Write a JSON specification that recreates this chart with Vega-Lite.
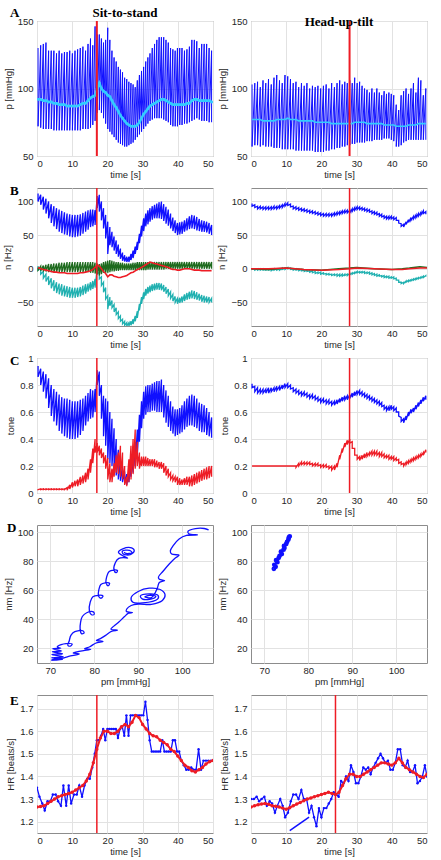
{
"$schema":"https://vega.github.io/schema/vega-lite/v6.json",
"background":"white",
"padding":{"left":2,"top":6,"right":5,"bottom":5},
"datasets":{
"L":[
{"t":0.3,"ph":130,"pl":72,"pm":92,"bh":112,"bl":100,"ch":4,"cl":-2,"gh":2,"gl":-2,"r":2,"uh":0.94,"ul":0.86,"vh":0.03,"vl":0.025},
{"t":1.05,"ph":132,"pl":71,"pm":92,"bh":110,"bl":95,"ch":0,"cl":-8,"gh":4,"gl":-3,"r":0,"uh":0.92,"ul":0.8,"vh":0.03,"vl":0.025},
{"t":1.8,"ph":133,"pl":70,"pm":91,"bh":107,"bl":88,"ch":-4,"cl":-14,"gh":5,"gl":-4,"r":-1,"uh":0.9,"ul":0.75,"vh":0.03,"vl":0.025},
{"t":2.55,"ph":134,"pl":70,"pm":91,"bh":104,"bl":82,"ch":-8,"cl":-19,"gh":6,"gl":-4,"r":-2,"uh":0.88,"ul":0.7,"vh":0.03,"vl":0.025},
{"t":3.3,"ph":128,"pl":70,"pm":90,"bh":100,"bl":75,"ch":-11,"cl":-24,"gh":7,"gl":-5,"r":-3,"uh":0.85,"ul":0.63,"vh":0.03,"vl":0.025},
{"t":4.05,"ph":128,"pl":70,"pm":90,"bh":96,"bl":68,"ch":-14,"cl":-29,"gh":7,"gl":-5,"r":-4,"uh":0.8,"ul":0.57,"vh":0.03,"vl":0.025},
{"t":4.8,"ph":128,"pl":69,"pm":89,"bh":93,"bl":63,"ch":-17,"cl":-33,"gh":8,"gl":-5,"r":-5,"uh":0.77,"ul":0.53,"vh":0.03,"vl":0.025},
{"t":5.55,"ph":126,"pl":69,"pm":89,"bh":90,"bl":59,"ch":-20,"cl":-36,"gh":8,"gl":-5,"r":-5,"uh":0.75,"ul":0.5,"vh":0.03,"vl":0.025},
{"t":6.3,"ph":128,"pl":69,"pm":88,"bh":88,"bl":55,"ch":-22,"cl":-38,"gh":9,"gl":-5,"r":-6,"uh":0.73,"ul":0.46,"vh":0.03,"vl":0.025},
{"t":7.05,"ph":126,"pl":69,"pm":88,"bh":86,"bl":53,"ch":-23,"cl":-40,"gh":9,"gl":-5,"r":-6,"uh":0.71,"ul":0.44,"vh":0.03,"vl":0.025},
{"t":7.8,"ph":127,"pl":69,"pm":88,"bh":84,"bl":51,"ch":-25,"cl":-41,"gh":9,"gl":-5,"r":-6,"uh":0.7,"ul":0.42,"vh":0.03,"vl":0.025},
{"t":8.55,"ph":127,"pl":69,"pm":87,"bh":82,"bl":50,"ch":-26,"cl":-42,"gh":10,"gl":-5,"r":-7,"uh":0.7,"ul":0.41,"vh":0.04,"vl":0.02},
{"t":9.3,"ph":128,"pl":69,"pm":87,"bh":81,"bl":48,"ch":-27,"cl":-43,"gh":10,"gl":-5,"r":-7,"uh":0.69,"ul":0.4,"vh":0.06,"vl":0.03},
{"t":10.05,"ph":126,"pl":69,"pm":87,"bh":80,"bl":47,"ch":-28,"cl":-43,"gh":10,"gl":-5,"r":-7,"uh":0.68,"ul":0.4,"vh":0.08,"vl":0.04},
{"t":10.8,"ph":128,"pl":69,"pm":87,"bh":80,"bl":47,"ch":-28,"cl":-43,"gh":10,"gl":-5,"r":-7,"uh":0.68,"ul":0.4,"vh":0.09,"vl":0.05},
{"t":11.55,"ph":129,"pl":69,"pm":87,"bh":80,"bl":48,"ch":-28,"cl":-42,"gh":10,"gl":-5,"r":-7,"uh":0.68,"ul":0.41,"vh":0.1,"vl":0.05},
{"t":12.3,"ph":130,"pl":69,"pm":88,"bh":81,"bl":49,"ch":-27,"cl":-41,"gh":10,"gl":-5,"r":-6,"uh":0.69,"ul":0.43,"vh":0.12,"vl":0.06},
{"t":13.05,"ph":131,"pl":70,"pm":89,"bh":83,"bl":52,"ch":-25,"cl":-39,"gh":10,"gl":-5,"r":-6,"uh":0.7,"ul":0.46,"vh":0.13,"vl":0.07},
{"t":13.8,"ph":128,"pl":70,"pm":89,"bh":85,"bl":55,"ch":-23,"cl":-37,"gh":10,"gl":-5,"r":-5,"uh":0.72,"ul":0.5,"vh":0.15,"vl":0.08},
{"t":14.5,"ph":133,"pl":70,"pm":91,"bh":87,"bl":58,"ch":-22,"cl":-34,"gh":10,"gl":-5,"r":-4,"uh":0.74,"ul":0.53,"vh":0.18,"vl":0.1},
{"t":15.2,"ph":137,"pl":71,"pm":93,"bh":88,"bl":62,"ch":-20,"cl":-32,"gh":10,"gl":-6,"r":-3,"uh":0.77,"ul":0.55,"vh":0.25,"vl":0.15},
{"t":15.85,"ph":132,"pl":73,"pm":94,"bh":88,"bl":63,"ch":-18,"cl":-30,"gh":10,"gl":-6,"r":-1,"uh":0.76,"ul":0.56,"vh":0.33,"vl":0.22},
{"t":16.5,"ph":146,"pl":76,"pm":95,"bh":87,"bl":65,"ch":-15,"cl":-28,"gh":9,"gl":-7,"r":2,"uh":0.77,"ul":0.6,"vh":0.4,"vl":0.3},
{"t":17.1,"ph":140,"pl":82,"pm":100,"bh":108,"bl":90,"ch":2,"cl":-8,"gh":8,"gl":-8,"r":6,"uh":0.91,"ul":0.8,"vh":0.37,"vl":0.3},
{"t":17.7,"ph":140,"pl":84,"pm":104,"bh":110,"bl":85,"ch":-5,"cl":-15,"gh":7,"gl":-10,"r":4,"uh":0.9,"ul":0.72,"vh":0.35,"vl":0.28},
{"t":18.3,"ph":137,"pl":82,"pm":100,"bh":100,"bl":72,"ch":-12,"cl":-25,"gh":8,"gl":-8,"r":0,"uh":0.8,"ul":0.55,"vh":0.33,"vl":0.26},
{"t":18.9,"ph":134,"pl":78,"pm":98,"bh":90,"bl":60,"ch":-20,"cl":-35,"gh":10,"gl":-6,"r":-4,"uh":0.72,"ul":0.42,"vh":0.3,"vl":0.22},
{"t":19.5,"ph":136,"pl":74,"pm":97,"bh":80,"bl":45,"ch":-28,"cl":-45,"gh":11,"gl":-6,"r":-7,"uh":0.7,"ul":0.35,"vh":0.28,"vl":0.18},
{"t":20.1,"ph":145,"pl":70,"pm":95,"bh":70,"bl":22,"ch":-40,"cl":-60,"gh":12,"gl":-6,"r":-12,"uh":0.68,"ul":0.25,"vh":0.26,"vl":0.1},
{"t":20.7,"ph":136,"pl":68,"pm":94,"bh":62,"bl":35,"ch":-42,"cl":-55,"gh":13,"gl":-5,"r":-9,"uh":0.6,"ul":0.22,"vh":0.22,"vl":0.08},
{"t":21.3,"ph":128,"pl":66,"pm":91,"bh":55,"bl":32,"ch":-47,"cl":-58,"gh":12,"gl":-4,"r":-9,"uh":0.55,"ul":0.2,"vh":0.18,"vl":0.08},
{"t":21.9,"ph":123,"pl":64,"pm":88,"bh":48,"bl":27,"ch":-53,"cl":-64,"gh":11,"gl":-4,"r":-11,"uh":0.48,"ul":0.16,"vh":0.22,"vl":0.12},
{"t":22.5,"ph":120,"pl":62,"pm":86,"bh":42,"bl":22,"ch":-58,"cl":-68,"gh":10,"gl":-3,"r":-12,"uh":0.4,"ul":0.13,"vh":0.28,"vl":0.15},
{"t":23.1,"ph":116,"pl":60,"pm":83,"bh":36,"bl":18,"ch":-64,"cl":-74,"gh":10,"gl":-3,"r":-13,"uh":0.32,"ul":0.1,"vh":0.3,"vl":0.14},
{"t":23.7,"ph":114,"pl":59,"pm":80,"bh":30,"bl":15,"ch":-70,"cl":-78,"gh":9,"gl":-2,"r":-13,"uh":0.25,"ul":0.09,"vh":0.35,"vl":0.12},
{"t":24.3,"ph":112,"pl":58,"pm":78,"bh":24,"bl":12,"ch":-75,"cl":-82,"gh":9,"gl":-2,"r":-12,"uh":0.2,"ul":0.08,"vh":0.3,"vl":0.1},
{"t":24.9,"ph":108,"pl":57,"pm":76,"bh":20,"bl":11,"ch":-78,"cl":-84,"gh":8,"gl":-2,"r":-11,"uh":0.16,"ul":0.07,"vh":0.2,"vl":0.06},
{"t":25.5,"ph":107,"pl":57,"pm":74,"bh":18,"bl":10,"ch":-80,"cl":-85,"gh":8,"gl":-2,"r":-10,"uh":0.14,"ul":0.06,"vh":0.12,"vl":0.05},
{"t":26.1,"ph":105,"pl":58,"pm":73,"bh":18,"bl":10,"ch":-80,"cl":-85,"gh":8,"gl":-2,"r":-8,"uh":0.16,"ul":0.08,"vh":0.25,"vl":0.08},
{"t":26.7,"ph":104,"pl":59,"pm":72,"bh":22,"bl":13,"ch":-78,"cl":-84,"gh":8,"gl":-2,"r":-6,"uh":0.22,"ul":0.12,"vh":0.35,"vl":0.1},
{"t":27.3,"ph":103,"pl":60,"pm":72,"bh":27,"bl":16,"ch":-75,"cl":-82,"gh":9,"gl":-2,"r":-5,"uh":0.28,"ul":0.15,"vh":0.4,"vl":0.14},
{"t":27.9,"ph":101,"pl":62,"pm":72,"bh":33,"bl":22,"ch":-70,"cl":-78,"gh":9,"gl":-2,"r":-3,"uh":0.38,"ul":0.2,"vh":0.47,"vl":0.18},
{"t":28.5,"ph":106,"pl":64,"pm":73,"bh":40,"bl":28,"ch":-63,"cl":-73,"gh":10,"gl":-2,"r":-1,"uh":0.47,"ul":0.28,"vh":0.38,"vl":0.2},
{"t":29.1,"ph":110,"pl":66,"pm":75,"bh":52,"bl":38,"ch":-52,"cl":-62,"gh":10,"gl":-2,"r":0,"uh":0.58,"ul":0.38,"vh":0.3,"vl":0.18},
{"t":29.7,"ph":113,"pl":68,"pm":78,"bh":64,"bl":48,"ch":-42,"cl":-52,"gh":10,"gl":-2,"r":2,"uh":0.68,"ul":0.48,"vh":0.27,"vl":0.2},
{"t":30.3,"ph":116,"pl":70,"pm":81,"bh":75,"bl":56,"ch":-35,"cl":-45,"gh":10,"gl":-2,"r":4,"uh":0.75,"ul":0.55,"vh":0.27,"vl":0.2},
{"t":30.9,"ph":120,"pl":72,"pm":83,"bh":82,"bl":63,"ch":-30,"cl":-40,"gh":10,"gl":-2,"r":6,"uh":0.79,"ul":0.58,"vh":0.27,"vl":0.2},
{"t":31.5,"ph":123,"pl":74,"pm":85,"bh":87,"bl":66,"ch":-27,"cl":-37,"gh":10,"gl":-1,"r":8,"uh":0.8,"ul":0.6,"vh":0.26,"vl":0.2},
{"t":32.1,"ph":126,"pl":76,"pm":87,"bh":90,"bl":70,"ch":-25,"cl":-35,"gh":10,"gl":-1,"r":10,"uh":0.8,"ul":0.6,"vh":0.25,"vl":0.2},
{"t":32.75,"ph":130,"pl":77,"pm":88,"bh":93,"bl":73,"ch":-23,"cl":-33,"gh":10,"gl":-1,"r":9,"uh":0.81,"ul":0.61,"vh":0.25,"vl":0.2},
{"t":33.4,"ph":133,"pl":78,"pm":89,"bh":95,"bl":75,"ch":-22,"cl":-32,"gh":10,"gl":-1,"r":8,"uh":0.82,"ul":0.61,"vh":0.25,"vl":0.19},
{"t":34.05,"ph":136,"pl":78,"pm":90,"bh":97,"bl":75,"ch":-21,"cl":-31,"gh":10,"gl":-1,"r":7,"uh":0.83,"ul":0.6,"vh":0.24,"vl":0.19},
{"t":34.7,"ph":138,"pl":78,"pm":91,"bh":99,"bl":75,"ch":-21,"cl":-31,"gh":10,"gl":-1,"r":6,"uh":0.83,"ul":0.6,"vh":0.23,"vl":0.18},
{"t":35.35,"ph":138,"pl":78,"pm":92,"bh":100,"bl":74,"ch":-22,"cl":-32,"gh":10,"gl":-1,"r":5,"uh":0.84,"ul":0.6,"vh":0.23,"vl":0.18},
{"t":36.0,"ph":138,"pl":77,"pm":92,"bh":96,"bl":71,"ch":-24,"cl":-34,"gh":10,"gl":-1,"r":4,"uh":0.8,"ul":0.56,"vh":0.22,"vl":0.15},
{"t":36.65,"ph":136,"pl":76,"pm":91,"bh":92,"bl":67,"ch":-27,"cl":-37,"gh":10,"gl":0,"r":3,"uh":0.76,"ul":0.52,"vh":0.2,"vl":0.13},
{"t":37.3,"ph":134,"pl":75,"pm":90,"bh":88,"bl":64,"ch":-30,"cl":-40,"gh":10,"gl":0,"r":2,"uh":0.72,"ul":0.49,"vh":0.18,"vl":0.12},
{"t":37.95,"ph":130,"pl":73,"pm":89,"bh":82,"bl":60,"ch":-34,"cl":-44,"gh":10,"gl":0,"r":0,"uh":0.68,"ul":0.46,"vh":0.15,"vl":0.1},
{"t":38.6,"ph":129,"pl":72,"pm":88,"bh":76,"bl":56,"ch":-38,"cl":-48,"gh":10,"gl":0,"r":-1,"uh":0.64,"ul":0.44,"vh":0.13,"vl":0.09},
{"t":39.25,"ph":128,"pl":72,"pm":88,"bh":72,"bl":53,"ch":-41,"cl":-50,"gh":10,"gl":0,"r":-1,"uh":0.62,"ul":0.42,"vh":0.12,"vl":0.08},
{"t":39.9,"ph":130,"pl":72,"pm":88,"bh":68,"bl":50,"ch":-44,"cl":-52,"gh":10,"gl":0,"r":-2,"uh":0.62,"ul":0.43,"vh":0.12,"vl":0.06},
{"t":40.55,"ph":130,"pl":73,"pm":88,"bh":69,"bl":51,"ch":-43,"cl":-51,"gh":10,"gl":0,"r":-2,"uh":0.63,"ul":0.44,"vh":0.11,"vl":0.06},
{"t":41.2,"ph":130,"pl":73,"pm":88,"bh":70,"bl":52,"ch":-41,"cl":-50,"gh":10,"gl":0,"r":-1,"uh":0.65,"ul":0.45,"vh":0.1,"vl":0.06},
{"t":41.9,"ph":128,"pl":74,"pm":88,"bh":72,"bl":55,"ch":-38,"cl":-48,"gh":10,"gl":0,"r":0,"uh":0.68,"ul":0.47,"vh":0.11,"vl":0.06},
{"t":42.6,"ph":129,"pl":74,"pm":89,"bh":75,"bl":57,"ch":-36,"cl":-46,"gh":10,"gl":0,"r":0,"uh":0.7,"ul":0.49,"vh":0.12,"vl":0.06},
{"t":43.3,"ph":131,"pl":75,"pm":89,"bh":78,"bl":59,"ch":-34,"cl":-45,"gh":10,"gl":0,"r":0,"uh":0.72,"ul":0.5,"vh":0.12,"vl":0.05},
{"t":44.0,"ph":136,"pl":76,"pm":91,"bh":80,"bl":60,"ch":-32,"cl":-44,"gh":10,"gl":0,"r":-1,"uh":0.73,"ul":0.5,"vh":0.13,"vl":0.05},
{"t":44.7,"ph":136,"pl":77,"pm":92,"bh":79,"bl":59,"ch":-33,"cl":-45,"gh":10,"gl":0,"r":-2,"uh":0.72,"ul":0.49,"vh":0.14,"vl":0.06},
{"t":45.4,"ph":135,"pl":78,"pm":92,"bh":77,"bl":57,"ch":-35,"cl":-46,"gh":10,"gl":0,"r":-2,"uh":0.7,"ul":0.48,"vh":0.15,"vl":0.07},
{"t":46.1,"ph":130,"pl":77,"pm":91,"bh":74,"bl":56,"ch":-37,"cl":-47,"gh":10,"gl":0,"r":-2,"uh":0.67,"ul":0.46,"vh":0.16,"vl":0.08},
{"t":46.8,"ph":133,"pl":76,"pm":91,"bh":72,"bl":55,"ch":-39,"cl":-49,"gh":10,"gl":0,"r":-3,"uh":0.66,"ul":0.45,"vh":0.17,"vl":0.09},
{"t":47.5,"ph":133,"pl":76,"pm":91,"bh":71,"bl":55,"ch":-40,"cl":-50,"gh":10,"gl":0,"r":-3,"uh":0.65,"ul":0.45,"vh":0.18,"vl":0.1},
{"t":48.2,"ph":133,"pl":76,"pm":91,"bh":70,"bl":54,"ch":-41,"cl":-50,"gh":10,"gl":0,"r":-3,"uh":0.63,"ul":0.43,"vh":0.19,"vl":0.1},
{"t":48.9,"ph":130,"pl":75,"pm":91,"bh":68,"bl":52,"ch":-42,"cl":-50,"gh":10,"gl":0,"r":-3,"uh":0.6,"ul":0.42,"vh":0.2,"vl":0.11},
{"t":49.6,"ph":128,"pl":75,"pm":90,"bh":65,"bl":50,"ch":-44,"cl":-50,"gh":10,"gl":0,"r":-3,"uh":0.56,"ul":0.41,"vh":0.2,"vl":0.12}
],
"R":[
{"t":0.3,"ph":103,"pl":57,"pm":77,"bh":97,"bl":93,"ch":1,"cl":-1,"uh":0.81,"ul":0.78,"vh":0.2,"vl":0.2},
{"t":1.08,"ph":104,"pl":58,"pm":77,"bh":95,"bl":91,"ch":0,"cl":-2,"uh":0.79,"ul":0.75,"vh":0.2,"vl":0.2},
{"t":1.86,"ph":105,"pl":58,"pm":77,"bh":93,"bl":89,"ch":0,"cl":-2,"uh":0.78,"ul":0.74,"vh":0.2,"vl":0.2},
{"t":2.64,"ph":101,"pl":57,"pm":77,"bh":93,"bl":89,"ch":0,"cl":-2,"uh":0.77,"ul":0.74,"vh":0.2,"vl":0.2},
{"t":3.42,"ph":106,"pl":58,"pm":76,"bh":92,"bl":88,"ch":0,"cl":-2,"uh":0.77,"ul":0.74,"vh":0.2,"vl":0.2},
{"t":4.2,"ph":104,"pl":57,"pm":76,"bh":92,"bl":88,"ch":-1,"cl":-2,"uh":0.77,"ul":0.74,"vh":0.2,"vl":0.2},
{"t":4.98,"ph":107,"pl":57,"pm":76,"bh":92,"bl":88,"ch":-1,"cl":-2,"uh":0.78,"ul":0.74,"vh":0.2,"vl":0.2},
{"t":5.76,"ph":103,"pl":57,"pm":76,"bh":92,"bl":88,"ch":-1,"cl":-3,"uh":0.78,"ul":0.75,"vh":0.2,"vl":0.2},
{"t":6.54,"ph":108,"pl":56,"pm":76,"bh":93,"bl":89,"ch":0,"cl":-2,"uh":0.78,"ul":0.75,"vh":0.2,"vl":0.2},
{"t":7.32,"ph":110,"pl":56,"pm":77,"bh":93,"bl":89,"ch":0,"cl":-2,"uh":0.79,"ul":0.76,"vh":0.2,"vl":0.2},
{"t":8.1,"ph":106,"pl":56,"pm":77,"bh":94,"bl":90,"ch":0,"cl":-2,"uh":0.79,"ul":0.76,"vh":0.2,"vl":0.2},
{"t":8.88,"ph":104,"pl":55,"pm":77,"bh":95,"bl":91,"ch":1,"cl":-1,"uh":0.8,"ul":0.77,"vh":0.2,"vl":0.2},
{"t":9.66,"ph":110,"pl":55,"pm":77,"bh":97,"bl":93,"ch":1,"cl":-1,"uh":0.81,"ul":0.78,"vh":0.2,"vl":0.2},
{"t":10.44,"ph":109,"pl":55,"pm":78,"bh":98,"bl":94,"ch":2,"cl":0,"uh":0.81,"ul":0.78,"vh":0.2,"vl":0.2},
{"t":11.22,"ph":107,"pl":55,"pm":77,"bh":96,"bl":92,"ch":1,"cl":-1,"uh":0.8,"ul":0.77,"vh":0.2,"vl":0.2},
{"t":12.0,"ph":104,"pl":55,"pm":77,"bh":93,"bl":89,"ch":0,"cl":-2,"uh":0.78,"ul":0.75,"vh":0.2,"vl":0.2},
{"t":12.78,"ph":105,"pl":54,"pm":77,"bh":92,"bl":88,"ch":0,"cl":-2,"uh":0.77,"ul":0.74,"vh":0.2,"vl":0.19},
{"t":13.56,"ph":101,"pl":54,"pm":76,"bh":91,"bl":87,"ch":-1,"cl":-3,"uh":0.76,"ul":0.73,"vh":0.22,"vl":0.2},
{"t":14.34,"ph":104,"pl":54,"pm":76,"bh":90,"bl":86,"ch":-1,"cl":-3,"uh":0.75,"ul":0.72,"vh":0.23,"vl":0.21},
{"t":15.12,"ph":102,"pl":54,"pm":76,"bh":89,"bl":85,"ch":-2,"cl":-4,"uh":0.75,"ul":0.72,"vh":0.23,"vl":0.21},
{"t":15.9,"ph":104,"pl":54,"pm":76,"bh":88,"bl":84,"ch":-2,"cl":-4,"uh":0.74,"ul":0.71,"vh":0.23,"vl":0.21},
{"t":16.68,"ph":100,"pl":54,"pm":76,"bh":87,"bl":83,"ch":-3,"cl":-5,"uh":0.73,"ul":0.7,"vh":0.23,"vl":0.21},
{"t":17.46,"ph":102,"pl":54,"pm":76,"bh":86,"bl":82,"ch":-3,"cl":-6,"uh":0.73,"ul":0.7,"vh":0.22,"vl":0.2},
{"t":18.24,"ph":101,"pl":53,"pm":75,"bh":85,"bl":81,"ch":-4,"cl":-7,"uh":0.72,"ul":0.69,"vh":0.22,"vl":0.2},
{"t":19.02,"ph":102,"pl":53,"pm":75,"bh":84,"bl":80,"ch":-5,"cl":-7,"uh":0.71,"ul":0.68,"vh":0.22,"vl":0.2},
{"t":19.8,"ph":100,"pl":53,"pm":75,"bh":83,"bl":79,"ch":-5,"cl":-8,"uh":0.7,"ul":0.67,"vh":0.21,"vl":0.19},
{"t":20.58,"ph":102,"pl":53,"pm":75,"bh":82,"bl":78,"ch":-6,"cl":-8,"uh":0.7,"ul":0.67,"vh":0.21,"vl":0.19},
{"t":21.36,"ph":103,"pl":54,"pm":75,"bh":82,"bl":78,"ch":-7,"cl":-9,"uh":0.69,"ul":0.66,"vh":0.21,"vl":0.19},
{"t":22.14,"ph":100,"pl":54,"pm":75,"bh":82,"bl":78,"ch":-7,"cl":-9,"uh":0.69,"ul":0.66,"vh":0.2,"vl":0.18},
{"t":22.92,"ph":104,"pl":55,"pm":74,"bh":82,"bl":78,"ch":-8,"cl":-10,"uh":0.68,"ul":0.65,"vh":0.2,"vl":0.17},
{"t":23.7,"ph":101,"pl":55,"pm":74,"bh":83,"bl":79,"ch":-8,"cl":-10,"uh":0.68,"ul":0.65,"vh":0.2,"vl":0.17},
{"t":24.45,"ph":104,"pl":56,"pm":74,"bh":84,"bl":80,"ch":-8,"cl":-11,"uh":0.69,"ul":0.66,"vh":0.22,"vl":0.19},
{"t":25.2,"ph":106,"pl":56,"pm":74,"bh":85,"bl":81,"ch":-8,"cl":-11,"uh":0.7,"ul":0.67,"vh":0.28,"vl":0.25},
{"t":25.93,"ph":103,"pl":57,"pm":74,"bh":86,"bl":82,"ch":-8,"cl":-11,"uh":0.71,"ul":0.68,"vh":0.33,"vl":0.3},
{"t":26.65,"ph":105,"pl":57,"pm":74,"bh":87,"bl":83,"ch":-8,"cl":-10,"uh":0.72,"ul":0.69,"vh":0.37,"vl":0.34},
{"t":27.36,"ph":104,"pl":58,"pm":74,"bh":87,"bl":83,"ch":-8,"cl":-10,"uh":0.72,"ul":0.69,"vh":0.39,"vl":0.36},
{"t":28.06,"ph":106,"pl":58,"pm":74,"bh":87,"bl":83,"ch":-7,"cl":-9,"uh":0.73,"ul":0.7,"vh":0.4,"vl":0.37},
{"t":28.76,"ph":104,"pl":59,"pm":74,"bh":89,"bl":85,"ch":-6,"cl":-8,"uh":0.74,"ul":0.71,"vh":0.38,"vl":0.33},
{"t":29.46,"ph":108,"pl":59,"pm":75,"bh":91,"bl":87,"ch":-5,"cl":-7,"uh":0.75,"ul":0.72,"vh":0.33,"vl":0.28},
{"t":30.16,"ph":104,"pl":60,"pm":75,"bh":92,"bl":88,"ch":-4,"cl":-6,"uh":0.76,"ul":0.73,"vh":0.28,"vl":0.25},
{"t":30.86,"ph":105,"pl":60,"pm":75,"bh":92,"bl":88,"ch":-4,"cl":-6,"uh":0.76,"ul":0.73,"vh":0.27,"vl":0.24},
{"t":31.56,"ph":102,"pl":60,"pm":75,"bh":91,"bl":87,"ch":-4,"cl":-6,"uh":0.75,"ul":0.72,"vh":0.28,"vl":0.25},
{"t":32.26,"ph":100,"pl":60,"pm":75,"bh":90,"bl":86,"ch":-4,"cl":-7,"uh":0.74,"ul":0.71,"vh":0.29,"vl":0.26},
{"t":32.96,"ph":99,"pl":61,"pm":74,"bh":89,"bl":85,"ch":-5,"cl":-7,"uh":0.73,"ul":0.7,"vh":0.3,"vl":0.27},
{"t":33.66,"ph":97,"pl":61,"pm":74,"bh":88,"bl":84,"ch":-5,"cl":-8,"uh":0.72,"ul":0.69,"vh":0.3,"vl":0.28},
{"t":34.36,"ph":100,"pl":61,"pm":74,"bh":86,"bl":82,"ch":-6,"cl":-9,"uh":0.71,"ul":0.68,"vh":0.31,"vl":0.28},
{"t":35.06,"ph":97,"pl":62,"pm":74,"bh":85,"bl":81,"ch":-7,"cl":-10,"uh":0.7,"ul":0.67,"vh":0.31,"vl":0.28},
{"t":35.76,"ph":100,"pl":62,"pm":74,"bh":84,"bl":80,"ch":-8,"cl":-11,"uh":0.69,"ul":0.66,"vh":0.31,"vl":0.28},
{"t":36.46,"ph":97,"pl":62,"pm":74,"bh":82,"bl":78,"ch":-9,"cl":-11,"uh":0.68,"ul":0.65,"vh":0.3,"vl":0.27},
{"t":37.14,"ph":95,"pl":62,"pm":74,"bh":81,"bl":77,"ch":-10,"cl":-12,"uh":0.67,"ul":0.64,"vh":0.3,"vl":0.27},
{"t":37.82,"ph":98,"pl":63,"pm":73,"bh":79,"bl":75,"ch":-10,"cl":-13,"uh":0.65,"ul":0.62,"vh":0.29,"vl":0.26},
{"t":38.5,"ph":96,"pl":63,"pm":73,"bh":78,"bl":74,"ch":-11,"cl":-13,"uh":0.64,"ul":0.61,"vh":0.28,"vl":0.26},
{"t":39.18,"ph":97,"pl":63,"pm":73,"bh":78,"bl":74,"ch":-11,"cl":-14,"uh":0.64,"ul":0.61,"vh":0.28,"vl":0.25},
{"t":39.86,"ph":96,"pl":62,"pm":73,"bh":78,"bl":74,"ch":-12,"cl":-14,"uh":0.65,"ul":0.62,"vh":0.27,"vl":0.25},
{"t":40.56,"ph":95,"pl":61,"pm":73,"bh":77,"bl":73,"ch":-12,"cl":-15,"uh":0.64,"ul":0.61,"vh":0.27,"vl":0.24},
{"t":41.26,"ph":88,"pl":57,"pm":72,"bh":76,"bl":72,"ch":-14,"cl":-17,"uh":0.63,"ul":0.6,"vh":0.26,"vl":0.24},
{"t":41.96,"ph":84,"pl":57,"pm":72,"bh":72,"bl":68,"ch":-17,"cl":-20,"uh":0.6,"ul":0.57,"vh":0.25,"vl":0.22},
{"t":42.66,"ph":95,"pl":58,"pm":72,"bh":67,"bl":63,"ch":-20,"cl":-22,"uh":0.56,"ul":0.53,"vh":0.23,"vl":0.21},
{"t":43.36,"ph":98,"pl":60,"pm":72,"bh":66,"bl":62,"ch":-20,"cl":-22,"uh":0.55,"ul":0.52,"vh":0.22,"vl":0.2},
{"t":44.06,"ph":100,"pl":61,"pm":72,"bh":70,"bl":66,"ch":-18,"cl":-20,"uh":0.57,"ul":0.54,"vh":0.23,"vl":0.21},
{"t":44.76,"ph":96,"pl":62,"pm":73,"bh":73,"bl":69,"ch":-17,"cl":-19,"uh":0.6,"ul":0.57,"vh":0.24,"vl":0.22},
{"t":45.46,"ph":100,"pl":62,"pm":73,"bh":76,"bl":72,"ch":-16,"cl":-18,"uh":0.62,"ul":0.59,"vh":0.25,"vl":0.23},
{"t":46.16,"ph":104,"pl":62,"pm":73,"bh":78,"bl":74,"ch":-15,"cl":-17,"uh":0.63,"ul":0.6,"vh":0.26,"vl":0.24},
{"t":46.86,"ph":97,"pl":62,"pm":73,"bh":80,"bl":76,"ch":-14,"cl":-16,"uh":0.65,"ul":0.62,"vh":0.27,"vl":0.25},
{"t":47.56,"ph":108,"pl":62,"pm":74,"bh":82,"bl":78,"ch":-13,"cl":-15,"uh":0.67,"ul":0.64,"vh":0.28,"vl":0.26},
{"t":48.26,"ph":106,"pl":62,"pm":74,"bh":84,"bl":80,"ch":-12,"cl":-14,"uh":0.69,"ul":0.66,"vh":0.29,"vl":0.27},
{"t":48.96,"ph":95,"pl":62,"pm":74,"bh":86,"bl":82,"ch":-11,"cl":-13,"uh":0.71,"ul":0.68,"vh":0.3,"vl":0.28},
{"t":49.66,"ph":100,"pl":62,"pm":74,"bh":85,"bl":81,"ch":-10,"cl":-12,"uh":0.72,"ul":0.69,"vh":0.32,"vl":0.3}
],
"BRg":[
{"t":0,"r":0,"g":0},{"t":5,"r":0,"g":-1},{"t":10,"r":1,"g":1},{"t":15,"r":-1,"g":-1},{"t":20,"r":-2,"g":-2},{"t":25,"r":-1,"g":0},{"t":28,"r":0,"g":1},{"t":30,"r":1,"g":2},{"t":35,"r":0,"g":0},{"t":40,"r":-1,"g":-1},{"t":43,"r":-1,"g":0},{"t":45,"r":0,"g":1},{"t":48,"r":1,"g":3},{"t":50,"r":1,"g":2}
],
"DL":[
{"s":"a","i":1,"x":70.2,"y":12},{"s":"a","i":2,"x":72.8,"y":12.5},{"s":"a","i":3,"x":70.3,"y":13.6},{"s":"a","i":4,"x":73,"y":14.2},{"s":"a","i":5,"x":70.4,"y":15.8},{"s":"a","i":6,"x":72.8,"y":16.3},{"s":"a","i":7,"x":70.5,"y":17.8},{"s":"a","i":8,"x":72.6,"y":18.3},{"s":"a","i":9,"x":70.6,"y":19.8},{"s":"a","i":10,"x":72.4,"y":20.2},{"s":"a","i":11,"x":71.6,"y":21},{"s":"a","i":12,"x":72.5,"y":22.6},{"s":"a","i":13,"x":73.6,"y":23.3},{"s":"a","i":14,"x":75,"y":23.1},{"s":"a","i":15,"x":74.6,"y":21.6},{"s":"a","i":16,"x":74,"y":22.2},{"s":"a","i":17,"x":74.3,"y":25},{"s":"a","i":18,"x":74.7,"y":29},{"s":"a","i":19,"x":75.6,"y":31.6},{"s":"a","i":20,"x":77.4,"y":32.2},{"s":"a","i":21,"x":77.7,"y":30.6},{"s":"a","i":22,"x":77.1,"y":30.2},{"s":"a","i":23,"x":76.8,"y":33},{"s":"a","i":24,"x":76.9,"y":38},{"s":"a","i":25,"x":77.3,"y":42},{"s":"a","i":26,"x":78.3,"y":44.6},{"s":"a","i":27,"x":79.8,"y":45.2},{"s":"a","i":28,"x":80,"y":43.6},{"s":"a","i":29,"x":79.4,"y":43.2},{"s":"a","i":30,"x":78.9,"y":46},{"s":"a","i":31,"x":79.1,"y":52},{"s":"a","i":32,"x":79.7,"y":55.6},{"s":"a","i":33,"x":80.9,"y":56.6},{"s":"a","i":34,"x":82,"y":56.2},{"s":"a","i":35,"x":81.6,"y":54.6},{"s":"a","i":36,"x":81,"y":56},{"s":"a","i":37,"x":81.1,"y":61},{"s":"a","i":38,"x":81.5,"y":64},{"s":"a","i":39,"x":82.5,"y":65.2},{"s":"a","i":40,"x":83.5,"y":64.8},{"s":"a","i":41,"x":83.2,"y":63.2},{"s":"a","i":42,"x":82.7,"y":65},{"s":"a","i":43,"x":82.9,"y":70},{"s":"a","i":44,"x":83.4,"y":73},{"s":"a","i":45,"x":84.4,"y":74},{"s":"a","i":46,"x":85.3,"y":73.6},{"s":"a","i":47,"x":85,"y":72.2},{"s":"a","i":48,"x":84.5,"y":74},{"s":"a","i":49,"x":84.8,"y":79},{"s":"a","i":50,"x":85.6,"y":82},{"s":"a","i":51,"x":86.6,"y":82.6},{"s":"a","i":52,"x":87.6,"y":82.2},{"s":"a","i":53,"x":86.4,"y":84},{"s":"a","i":54,"x":85.5,"y":86.2},{"s":"a","i":55,"x":86.5,"y":88.6},{"s":"a","i":56,"x":88.5,"y":89.2},{"s":"a","i":57,"x":89.1,"y":87.2},{"s":"a","i":58,"x":88.2,"y":84.6},{"s":"a","i":59,"x":86.6,"y":85},{"s":"a","i":60,"x":86.4,"y":87},{"s":"a","i":61,"x":88,"y":87.6},{"s":"a","i":62,"x":88.6,"y":86},{"s":"a","i":63,"x":87.2,"y":85.4},{"s":"a","i":64,"x":86.8,"y":86.3},
{"s":"b","i":1,"x":70.4,"y":12.2},{"s":"b","i":2,"x":72.6,"y":13.2},{"s":"b","i":3,"x":74.2,"y":14.6},{"s":"b","i":4,"x":76.6,"y":16.2},{"s":"b","i":5,"x":75.2,"y":16.9},{"s":"b","i":6,"x":76.1,"y":17.6},{"s":"b","i":7,"x":77.6,"y":18.5},{"s":"b","i":8,"x":79.2,"y":19.4},{"s":"b","i":9,"x":77.8,"y":19.9},{"s":"b","i":10,"x":79,"y":21.2},{"s":"b","i":11,"x":80.3,"y":23.6},{"s":"b","i":12,"x":82,"y":24.8},{"s":"b","i":13,"x":80.5,"y":25.6},{"s":"b","i":14,"x":81.3,"y":26.6},{"s":"b","i":15,"x":82.6,"y":29},{"s":"b","i":16,"x":83.9,"y":31.8},{"s":"b","i":17,"x":85.3,"y":32.5},{"s":"b","i":18,"x":83.8,"y":33.3},{"s":"b","i":19,"x":84.4,"y":35.2},{"s":"b","i":20,"x":85.6,"y":38.2},{"s":"b","i":21,"x":86.9,"y":42},{"s":"b","i":22,"x":87.8,"y":44.3},{"s":"b","i":23,"x":88.7,"y":44.7},{"s":"b","i":24,"x":87.3,"y":45.6},{"s":"b","i":25,"x":87.4,"y":47.2},{"s":"b","i":26,"x":88.4,"y":49.6},{"s":"b","i":27,"x":90.2,"y":50.5},{"s":"b","i":28,"x":93,"y":50.4},{"s":"b","i":29,"x":95.5,"y":53},{"s":"b","i":30,"x":96.1,"y":57},{"s":"b","i":31,"x":95,"y":60.6},{"s":"b","i":32,"x":92.5,"y":61.5},{"s":"b","i":33,"x":90,"y":59.2},{"s":"b","i":34,"x":88.4,"y":55},{"s":"b","i":35,"x":88.8,"y":51.8},{"s":"b","i":36,"x":91,"y":51.4},{"s":"b","i":37,"x":94.4,"y":54},{"s":"b","i":38,"x":94.5,"y":56.6},{"s":"b","i":39,"x":92.5,"y":57.6},{"s":"b","i":40,"x":90.5,"y":56.2},{"s":"b","i":41,"x":91,"y":54},{"s":"b","i":42,"x":93.4,"y":54.4},{"s":"b","i":43,"x":94,"y":56},{"s":"b","i":44,"x":92.5,"y":56.6},{"s":"b","i":45,"x":91.5,"y":55.5},{"s":"b","i":46,"x":93,"y":55},{"s":"b","i":47,"x":93.8,"y":58},{"s":"b","i":48,"x":94.4,"y":62},{"s":"b","i":49,"x":94.8,"y":65.4},{"s":"b","i":50,"x":96,"y":66.8},{"s":"b","i":51,"x":94.8,"y":67.6},{"s":"b","i":52,"x":94.6,"y":69.2},{"s":"b","i":53,"x":95.6,"y":73},{"s":"b","i":54,"x":97,"y":78},{"s":"b","i":55,"x":98.3,"y":82},{"s":"b","i":56,"x":99.3,"y":84.2},{"s":"b","i":57,"x":97.6,"y":85},{"s":"b","i":58,"x":97.3,"y":87.2},{"s":"b","i":59,"x":98,"y":91},{"s":"b","i":60,"x":99.3,"y":95.4},{"s":"b","i":61,"x":101,"y":97.8},{"s":"b","i":62,"x":103.5,"y":98.2},{"s":"b","i":63,"x":101.5,"y":99},{"s":"b","i":64,"x":101.3,"y":100.6},{"s":"b","i":65,"x":103,"y":102.5},{"s":"b","i":66,"x":105,"y":102.6},{"s":"b","i":67,"x":106,"y":101.6}
],
"DR":[
{"i":1,"x":72.2,"y":74.8},{"i":2,"x":72.6,"y":76.2},{"i":3,"x":72.3,"y":77.6},{"i":4,"x":73,"y":79.4},{"i":5,"x":72.7,"y":80.8},{"i":6,"x":73.3,"y":82.4},{"i":7,"x":73.5,"y":83.8},{"i":8,"x":74,"y":85},{"i":9,"x":73.8,"y":86.6},{"i":10,"x":74.4,"y":88},{"i":11,"x":74.6,"y":89.2},{"i":12,"x":74.5,"y":90.6},{"i":13,"x":75,"y":92},{"i":14,"x":75.2,"y":93.4},{"i":15,"x":75.5,"y":95},{"i":16,"x":75.6,"y":96.4},{"i":17,"x":75.8,"y":97.2}
],
"EBL":[
{"t":0,"h":1.35},{"t":0.7,"h":1.31},{"t":1.5,"h":1.28},{"t":2.2,"h":1.25},{"t":3,"h":1.29},{"t":3.8,"h":1.29},{"t":4.5,"h":1.32},{"t":5.3,"h":1.32},{"t":6,"h":1.29},{"t":6.8,"h":1.27},{"t":7.5,"h":1.36},{"t":8.3,"h":1.27},{"t":9,"h":1.36},{"t":9.7,"h":1.28},{"t":10.5,"h":1.32},{"t":11.3,"h":1.32},{"t":12,"h":1.36},{"t":12.8,"h":1.31},{"t":13.5,"h":1.36},{"t":14.3,"h":1.39},{"t":15,"h":1.39},{"t":15.7,"h":1.44},{"t":16.4,"h":1.5},{"t":17,"h":1.56},{"t":17.6,"h":1.56},{"t":18.2,"h":1.58},{"t":18.8,"h":1.61},{"t":19.4,"h":1.56},{"t":20,"h":1.61},{"t":20.6,"h":1.61},{"t":21.2,"h":1.61},{"t":21.8,"h":1.61},{"t":22.4,"h":1.61},{"t":23,"h":1.57},{"t":23.6,"h":1.61},{"t":24.2,"h":1.62},{"t":24.8,"h":1.58},{"t":25.4,"h":1.67},{"t":26,"h":1.58},{"t":26.6,"h":1.67},{"t":27.2,"h":1.67},{"t":27.8,"h":1.67},{"t":28.4,"h":1.67},{"t":29,"h":1.67},{"t":29.6,"h":1.67},{"t":30.2,"h":1.67},{"t":30.8,"h":1.73},{"t":31.4,"h":1.65},{"t":32,"h":1.56},{"t":32.6,"h":1.51},{"t":33.2,"h":1.51},{"t":33.8,"h":1.51},{"t":34.4,"h":1.51},{"t":35,"h":1.51},{"t":35.6,"h":1.56},{"t":36.2,"h":1.51},{"t":36.8,"h":1.51},{"t":37.4,"h":1.51},{"t":38,"h":1.51},{"t":38.6,"h":1.56},{"t":39.2,"h":1.56},{"t":39.8,"h":1.51},{"t":40.4,"h":1.51},{"t":41,"h":1.47},{"t":41.7,"h":1.45},{"t":42.4,"h":1.43},{"t":43.1,"h":1.43},{"t":43.8,"h":1.44},{"t":44.5,"h":1.43},{"t":45.2,"h":1.43},{"t":45.9,"h":1.52},{"t":46.6,"h":1.43},{"t":47.3,"h":1.47},{"t":48,"h":1.47},{"t":48.7,"h":1.47},{"t":49.4,"h":1.47},{"t":50,"h":1.47}
],
"ERL":[
{"t":0,"h":1.265},{"t":1,"h":1.267},{"t":2,"h":1.27},{"t":3,"h":1.28},{"t":4,"h":1.29},{"t":5,"h":1.3},{"t":6,"h":1.31},{"t":7,"h":1.315},{"t":8,"h":1.32},{"t":9,"h":1.325},{"t":10,"h":1.33},{"t":11,"h":1.34},{"t":12,"h":1.35},{"t":13,"h":1.36},{"t":14,"h":1.38},{"t":15,"h":1.41},{"t":16,"h":1.46},{"t":17,"h":1.52},{"t":18,"h":1.57},{"t":19,"h":1.6},{"t":20,"h":1.6},{"t":21,"h":1.59},{"t":22,"h":1.59},{"t":23,"h":1.6},{"t":24,"h":1.62},{"t":25,"h":1.63},{"t":26,"h":1.62},{"t":27,"h":1.64},{"t":28,"h":1.67},{"t":29,"h":1.66},{"t":30,"h":1.63},{"t":31,"h":1.61},{"t":32,"h":1.59},{"t":33,"h":1.58},{"t":34,"h":1.575},{"t":35,"h":1.56},{"t":36,"h":1.55},{"t":37,"h":1.54},{"t":38,"h":1.52},{"t":39,"h":1.51},{"t":40,"h":1.49},{"t":41,"h":1.47},{"t":42,"h":1.45},{"t":43,"h":1.44},{"t":44,"h":1.425},{"t":45,"h":1.42},{"t":46,"h":1.43},{"t":47,"h":1.44},{"t":48,"h":1.455},{"t":49,"h":1.465},{"t":50,"h":1.47}
],
"EBR":[
{"t":0,"h":1.3},{"t":0.8,"h":1.3},{"t":1.6,"h":1.31},{"t":2.3,"h":1.29},{"t":3,"h":1.3},{"t":3.8,"h":1.31},{"t":4.5,"h":1.27},{"t":5.3,"h":1.29},{"t":6,"h":1.28},{"t":6.8,"h":1.24},{"t":7.5,"h":1.27},{"t":8.3,"h":1.3},{"t":9,"h":1.27},{"t":9.7,"h":1.22},{"t":10.5,"h":1.24},{"t":11.3,"h":1.29},{"t":12,"h":1.32},{"t":12.8,"h":1.32},{"t":13.5,"h":1.3},{"t":14.3,"h":1.34},{"t":15,"h":1.3},{"t":15.8,"h":1.3},{"t":16.5,"h":1.24},{"t":17.2,"h":1.27},{"t":17.9,"h":1.22},{"t":18.6,"h":1.18},{"t":19.3,"h":1.26},{"t":20,"h":1.22},{"t":20.7,"h":1.26},{"t":21.4,"h":1.26},{"t":22.1,"h":1.28},{"t":22.8,"h":1.3},{"t":23.5,"h":1.33},{"t":24.2,"h":1.32},{"t":24.9,"h":1.31},{"t":25.6,"h":1.38},{"t":26.3,"h":1.37},{"t":27,"h":1.4},{"t":27.7,"h":1.38},{"t":28.4,"h":1.45},{"t":29.1,"h":1.42},{"t":29.8,"h":1.37},{"t":30.5,"h":1.37},{"t":31.2,"h":1.4},{"t":31.9,"h":1.44},{"t":32.6,"h":1.43},{"t":33.3,"h":1.44},{"t":34,"h":1.41},{"t":34.7,"h":1.44},{"t":35.4,"h":1.46},{"t":36.1,"h":1.48},{"t":36.8,"h":1.5},{"t":37.5,"h":1.48},{"t":38.2,"h":1.46},{"t":38.9,"h":1.47},{"t":39.6,"h":1.43},{"t":40.3,"h":1.43},{"t":41,"h":1.46},{"t":41.7,"h":1.52},{"t":42.4,"h":1.52},{"t":43.1,"h":1.45},{"t":43.8,"h":1.44},{"t":44.5,"h":1.47},{"t":45.2,"h":1.42},{"t":45.9,"h":1.42},{"t":46.6,"h":1.45},{"t":47.3,"h":1.37},{"t":48,"h":1.38},{"t":48.7,"h":1.4},{"t":49.4,"h":1.45},{"t":50,"h":1.4}
],
"EBR2":[{"t":11,"h":1.16},{"t":16.5,"h":1.22}],
"ERR":[
{"t":0,"h":1.265},{"t":1,"h":1.27},{"t":2,"h":1.275},{"t":3,"h":1.278},{"t":4,"h":1.28},{"t":5,"h":1.277},{"t":6,"h":1.27},{"t":7,"h":1.268},{"t":8,"h":1.265},{"t":9,"h":1.26},{"t":10,"h":1.255},{"t":11,"h":1.262},{"t":12,"h":1.27},{"t":13,"h":1.278},{"t":14,"h":1.285},{"t":15,"h":1.293},{"t":16,"h":1.3},{"t":17,"h":1.305},{"t":18,"h":1.31},{"t":19,"h":1.315},{"t":20,"h":1.32},{"t":21,"h":1.325},{"t":22,"h":1.33},{"t":23,"h":1.325},{"t":24,"h":1.32},{"t":25,"h":1.33},{"t":26,"h":1.36},{"t":27,"h":1.39},{"t":28,"h":1.41},{"t":29,"h":1.41},{"t":30,"h":1.4},{"t":31,"h":1.4},{"t":32,"h":1.41},{"t":33,"h":1.42},{"t":34,"h":1.43},{"t":35,"h":1.44},{"t":36,"h":1.45},{"t":37,"h":1.46},{"t":38,"h":1.46},{"t":39,"h":1.455},{"t":40,"h":1.45},{"t":41,"h":1.46},{"t":42,"h":1.48},{"t":43,"h":1.46},{"t":44,"h":1.44},{"t":45,"h":1.43},{"t":46,"h":1.42},{"t":47,"h":1.41},{"t":48,"h":1.4},{"t":49,"h":1.395},{"t":50,"h":1.41}
]
},
"hconcat":[
{
"title":{"text":"Sit-to-stand","anchor":"middle","dx":17,"dy":17,"fontSize":13},
"spacing":32,
"bounds":"flush",
"vconcat":[
{
"width":176,"height":135,
"title":{"text":"A","anchor":"start","frame":"group","dx":-27,"dy":14,"offset":0,"baseline":"alphabetic","fontSize":13},
"data":{"name":"L"},
"encoding":{"x":{"field":"t","type":"quantitative","scale":{"domain":[0,50],"nice":false},"axis":{"values":[0,10,20,30,40,50],"labelOverlap":false},"title":"time [s]"}},
"layer":[
{"transform":[{"fold":["ph","pl"],"as":["k","v"]}],
"mark":{"type":"line","color":"#1010ff","strokeWidth":1,"clip":true},
"encoding":{"y":{"field":"v","type":"quantitative","scale":{"domain":[50,150],"nice":false,"zero":false},"axis":{"values":[50,100,150],"format":"d","labelOverlap":false},"title":"p [mmHg]"},
"order":[{"field":"t","type":"quantitative"},{"field":"k","type":"nominal","sort":"descending"}]}},
{"mark":{"type":"line","color":"#33ccff","strokeWidth":2.5,"clip":true,"point":{"filled":true,"size":8,"color":"#33ccff"}},
"encoding":{"y":{"field":"pm","type":"quantitative","scale":{"domain":[50,150],"nice":false,"zero":false},"axis":{"values":[50,100,150],"format":"d","labelOverlap":false},"title":"p [mmHg]"}}},
{"data":{"values":[{"t":17}]},"mark":{"type":"rule","color":"#ee1c25","strokeWidth":2}}
]
},
{
"width":176,"height":138,
"title":{"text":"B","anchor":"start","frame":"group","dx":-27,"dy":21,"offset":0,"baseline":"alphabetic","fontSize":13},
"data":{"name":"L"},
"encoding":{"x":{"field":"t","type":"quantitative","scale":{"domain":[0,50],"nice":false},"axis":{"values":[0,10,20,30,40,50],"labelOverlap":false},"title":"time [s]"}},
"layer":[
{"transform":[{"fold":["bh","bl"],"as":["k","v"]}],
"mark":{"type":"line","color":"#1010ff","strokeWidth":1.3,"clip":true},
"encoding":{"y":{"field":"v","type":"quantitative","scale":{"domain":[-85,120],"nice":false,"zero":false},"axis":{"values":[-50,0,50,100],"format":"d","labelOverlap":false},"title":"n [Hz]"},
"order":[{"field":"t","type":"quantitative"},{"field":"k","type":"nominal","sort":"descending"}]}},
{"transform":[{"fold":["ch","cl"],"as":["k","v"]}],
"mark":{"type":"line","color":"#1fb0b0","strokeWidth":1.3,"clip":true},
"encoding":{"y":{"field":"v","type":"quantitative","scale":{"domain":[-85,120],"nice":false,"zero":false},"axis":{"values":[-50,0,50,100],"format":"d","labelOverlap":false},"title":"n [Hz]"},
"order":[{"field":"t","type":"quantitative"},{"field":"k","type":"nominal","sort":"descending"}]}},
{"transform":[{"fold":["gh","gl"],"as":["k","v"]}],
"mark":{"type":"line","color":"#1e6b1e","strokeWidth":1.3,"clip":true},
"encoding":{"y":{"field":"v","type":"quantitative","scale":{"domain":[-85,120],"nice":false,"zero":false},"axis":{"values":[-50,0,50,100],"format":"d","labelOverlap":false},"title":"n [Hz]"},
"order":[{"field":"t","type":"quantitative"},{"field":"k","type":"nominal","sort":"descending"}]}},
{"mark":{"type":"line","color":"#ee1c25","strokeWidth":1.6,"clip":true},
"encoding":{"y":{"field":"r","type":"quantitative","scale":{"domain":[-85,120],"nice":false,"zero":false},"axis":{"values":[-50,0,50,100],"format":"d","labelOverlap":false},"title":"n [Hz]"}}},
{"data":{"values":[{"t":17}]},"mark":{"type":"rule","color":"#ee1c25","strokeWidth":1.5}}
]
},
{
"width":176,"height":135,
"title":{"text":"C","anchor":"start","frame":"group","dx":-27,"dy":25,"offset":0,"baseline":"alphabetic","fontSize":13},
"data":{"name":"L"},
"encoding":{"x":{"field":"t","type":"quantitative","scale":{"domain":[0,50],"nice":false},"axis":{"values":[0,10,20,30,40,50],"labelOverlap":false},"title":"time [s]"}},
"layer":[
{"transform":[{"fold":["uh","ul"],"as":["k","v"]}],
"mark":{"type":"line","color":"#1010ff","strokeWidth":1.3,"clip":true},
"encoding":{"y":{"field":"v","type":"quantitative","scale":{"domain":[0,1],"nice":false},"axis":{"values":[0,0.2,0.4,0.6,0.8,1],"format":".1~f","labelOverlap":false},"title":"tone"},
"order":[{"field":"t","type":"quantitative"},{"field":"k","type":"nominal","sort":"descending"}]}},
{"transform":[{"fold":["vh","vl"],"as":["k","v"]}],
"mark":{"type":"line","color":"#ee1c25","strokeWidth":1.3,"clip":true},
"encoding":{"y":{"field":"v","type":"quantitative","scale":{"domain":[0,1],"nice":false},"axis":{"values":[0,0.2,0.4,0.6,0.8,1],"format":".1~f","labelOverlap":false},"title":"tone"},
"order":[{"field":"t","type":"quantitative"},{"field":"k","type":"nominal","sort":"descending"}]}},
{"data":{"values":[{"t":17}]},"mark":{"type":"rule","color":"#ee1c25","strokeWidth":1.5}}
]
},
{
"width":176,"height":138,
"title":{"text":"D","anchor":"start","frame":"group","dx":-30,"dy":20,"offset":0,"baseline":"alphabetic","fontSize":13},
"data":{"name":"DL"},
"mark":{"type":"line","color":"#1010ff","strokeWidth":1.3,"interpolate":"catmull-rom","clip":true},
"encoding":{"x":{"field":"x","type":"quantitative","scale":{"domain":[67,107],"nice":false,"zero":false},"axis":{"values":[70,80,90,100],"labelOverlap":false},"title":"pm [mmHg]"},
"y":{"field":"y","type":"quantitative","scale":{"domain":[10,105],"nice":false,"zero":false},"axis":{"values":[20,40,60,80,100],"labelOverlap":false},"title":"nm [Hz]"},
"detail":{"field":"s","type":"nominal"},
"order":{"field":"i","type":"quantitative"}}
},
{
"width":176,"height":138,
"title":{"text":"E","anchor":"start","frame":"group","dx":-27,"dy":24,"offset":0,"baseline":"alphabetic","fontSize":13},
"encoding":{"x":{"field":"t","type":"quantitative","scale":{"domain":[0,50],"nice":false},"axis":{"values":[0,10,20,30,40,50],"labelOverlap":false},"title":"time [s]"}},
"layer":[
{"data":{"name":"EBL"},"mark":{"type":"line","color":"#1010ff","strokeWidth":1.3,"clip":true,"point":{"filled":true,"size":6,"color":"#1010ff"}},
"encoding":{"y":{"field":"h","type":"quantitative","scale":{"domain":[1.15,1.76],"nice":false,"zero":false},"axis":{"values":[1.2,1.3,1.4,1.5,1.6,1.7],"format":".1f","labelOverlap":false},"title":"HR [beats/s]"}}},
{"data":{"name":"ERL"},"mark":{"type":"line","color":"#ee1c25","strokeWidth":2,"clip":true,"point":{"filled":true,"size":12,"color":"#ee1c25"}},
"encoding":{"y":{"field":"h","type":"quantitative","scale":{"domain":[1.15,1.76],"nice":false,"zero":false},"axis":{"values":[1.2,1.3,1.4,1.5,1.6,1.7],"format":".1f","labelOverlap":false},"title":"HR [beats/s]"}}},
{"data":{"values":[{"t":17}]},"mark":{"type":"rule","color":"#ee1c25","strokeWidth":1.5}}
]
}
]
},
{
"title":{"text":"Head-up-tilt","anchor":"middle","dx":17,"dy":17,"fontSize":13},
"spacing":32,
"bounds":"flush",
"vconcat":[
{
"width":176,"height":135,
"data":{"name":"R"},
"encoding":{"x":{"field":"t","type":"quantitative","scale":{"domain":[0,50],"nice":false},"axis":{"values":[0,10,20,30,40,50],"labelOverlap":false},"title":"time [s]"}},
"layer":[
{"transform":[{"fold":["ph","pl"],"as":["k","v"]}],
"mark":{"type":"line","color":"#1010ff","strokeWidth":1,"clip":true},
"encoding":{"y":{"field":"v","type":"quantitative","scale":{"domain":[50,150],"nice":false,"zero":false},"axis":{"values":[50,100,150],"format":"d","labelOverlap":false},"title":"p [mmHg]"},
"order":[{"field":"t","type":"quantitative"},{"field":"k","type":"nominal","sort":"descending"}]}},
{"mark":{"type":"line","color":"#33ccff","strokeWidth":1.6,"clip":true},
"encoding":{"y":{"field":"pm","type":"quantitative","scale":{"domain":[50,150],"nice":false,"zero":false},"axis":{"values":[50,100,150],"format":"d","labelOverlap":false},"title":"p [mmHg]"}}},
{"data":{"values":[{"t":28}]},"mark":{"type":"rule","color":"#ee1c25","strokeWidth":2}}
]
},
{
"width":176,"height":138,
"encoding":{"x":{"field":"t","type":"quantitative","scale":{"domain":[0,50],"nice":false},"axis":{"values":[0,10,20,30,40,50],"labelOverlap":false},"title":"time [s]"}},
"layer":[
{"data":{"name":"R"},"transform":[{"fold":["bh","bl"],"as":["k","v"]}],
"mark":{"type":"line","color":"#1010ff","strokeWidth":1.3,"clip":true},
"encoding":{"y":{"field":"v","type":"quantitative","scale":{"domain":[-85,120],"nice":false,"zero":false},"axis":{"values":[-50,0,50,100],"format":"d","labelOverlap":false},"title":"n [Hz]"},
"order":[{"field":"t","type":"quantitative"},{"field":"k","type":"nominal","sort":"descending"}]}},
{"data":{"name":"R"},"transform":[{"fold":["ch","cl"],"as":["k","v"]}],
"mark":{"type":"line","color":"#1fb0b0","strokeWidth":1.3,"clip":true},
"encoding":{"y":{"field":"v","type":"quantitative","scale":{"domain":[-85,120],"nice":false,"zero":false},"axis":{"values":[-50,0,50,100],"format":"d","labelOverlap":false},"title":"n [Hz]"},
"order":[{"field":"t","type":"quantitative"},{"field":"k","type":"nominal","sort":"descending"}]}},
{"data":{"name":"BRg"},"mark":{"type":"line","color":"#1e6b1e","strokeWidth":1.5,"clip":true},
"encoding":{"y":{"field":"g","type":"quantitative","scale":{"domain":[-85,120],"nice":false,"zero":false},"axis":{"values":[-50,0,50,100],"format":"d","labelOverlap":false},"title":"n [Hz]"}}},
{"data":{"name":"BRg"},"mark":{"type":"line","color":"#ee1c25","strokeWidth":1.5,"clip":true},
"encoding":{"y":{"field":"r","type":"quantitative","scale":{"domain":[-85,120],"nice":false,"zero":false},"axis":{"values":[-50,0,50,100],"format":"d","labelOverlap":false},"title":"n [Hz]"}}},
{"data":{"values":[{"t":28}]},"mark":{"type":"rule","color":"#ee1c25","strokeWidth":1.5}}
]
},
{
"width":176,"height":135,
"data":{"name":"R"},
"encoding":{"x":{"field":"t","type":"quantitative","scale":{"domain":[0,50],"nice":false},"axis":{"values":[0,10,20,30,40,50],"labelOverlap":false},"title":"time [s]"}},
"layer":[
{"transform":[{"fold":["uh","ul"],"as":["k","v"]}],
"mark":{"type":"line","color":"#1010ff","strokeWidth":1.3,"clip":true},
"encoding":{"y":{"field":"v","type":"quantitative","scale":{"domain":[0,1],"nice":false},"axis":{"values":[0,0.2,0.4,0.6,0.8,1],"format":".1~f","labelOverlap":false},"title":"tone"},
"order":[{"field":"t","type":"quantitative"},{"field":"k","type":"nominal","sort":"descending"}]}},
{"transform":[{"fold":["vh","vl"],"as":["k","v"]}],
"mark":{"type":"line","color":"#ee1c25","strokeWidth":1.3,"clip":true},
"encoding":{"y":{"field":"v","type":"quantitative","scale":{"domain":[0,1],"nice":false},"axis":{"values":[0,0.2,0.4,0.6,0.8,1],"format":".1~f","labelOverlap":false},"title":"tone"},
"order":[{"field":"t","type":"quantitative"},{"field":"k","type":"nominal","sort":"descending"}]}},
{"data":{"values":[{"t":28}]},"mark":{"type":"rule","color":"#ee1c25","strokeWidth":1.5}}
]
},
{
"width":176,"height":138,
"data":{"name":"DR"},
"mark":{"type":"line","color":"#1010ff","strokeWidth":2,"clip":true,"point":{"filled":false,"size":8,"color":"#1010ff"}},
"encoding":{"x":{"field":"x","type":"quantitative","scale":{"domain":[67,107],"nice":false,"zero":false},"axis":{"values":[70,80,90,100],"labelOverlap":false},"title":"pm [mmHg]"},
"y":{"field":"y","type":"quantitative","scale":{"domain":[10,105],"nice":false,"zero":false},"axis":{"values":[20,40,60,80,100],"labelOverlap":false},"title":"nm [Hz]"},
"order":{"field":"i","type":"quantitative"}}
},
{
"width":176,"height":138,
"encoding":{"x":{"field":"t","type":"quantitative","scale":{"domain":[0,50],"nice":false},"axis":{"values":[0,10,20,30,40,50],"labelOverlap":false},"title":"time [s]"}},
"layer":[
{"data":{"name":"EBR"},"mark":{"type":"line","color":"#1010ff","strokeWidth":1.3,"clip":true,"point":{"filled":true,"size":6,"color":"#1010ff"}},
"encoding":{"y":{"field":"h","type":"quantitative","scale":{"domain":[1.15,1.76],"nice":false,"zero":false},"axis":{"values":[1.2,1.3,1.4,1.5,1.6,1.7],"format":".1f","labelOverlap":false},"title":"HR [beats/s]"}}},
{"data":{"name":"EBR2"},"mark":{"type":"line","color":"#1010ff","strokeWidth":1.5,"clip":true},
"encoding":{"y":{"field":"h","type":"quantitative","scale":{"domain":[1.15,1.76],"nice":false,"zero":false},"axis":{"values":[1.2,1.3,1.4,1.5,1.6,1.7],"format":".1f","labelOverlap":false},"title":"HR [beats/s]"}}},
{"data":{"name":"ERR"},"mark":{"type":"line","color":"#ee1c25","strokeWidth":2,"clip":true,"point":{"filled":true,"size":12,"color":"#ee1c25"}},
"encoding":{"y":{"field":"h","type":"quantitative","scale":{"domain":[1.15,1.76],"nice":false,"zero":false},"axis":{"values":[1.2,1.3,1.4,1.5,1.6,1.7],"format":".1f","labelOverlap":false},"title":"HR [beats/s]"}}},
{"data":{"values":[{"t":24}]},"mark":{"type":"rule","color":"#ee1c25","strokeWidth":1.5}}
]
}
]
}
],
"spacing":2,
"config":{
"font":"Liberation Sans",
"view":{"stroke":"#8c8c8c","strokeWidth":1},
"axis":{"grid":true,"gridColor":"#e2e2e2","domain":false,"ticks":false,"labelFontSize":9.5,"labelColor":"#262626","titleFontSize":9.5,"titleFontWeight":"normal","titleColor":"#262626","labelPadding":4,"titlePadding":4,"labelOverlap":false},
"axisX":{"labelPadding":2,"titlePadding":2},
"title":{"font":"Liberation Serif","fontWeight":"bold","fontSize":13,"color":"#000000"}
}
}
